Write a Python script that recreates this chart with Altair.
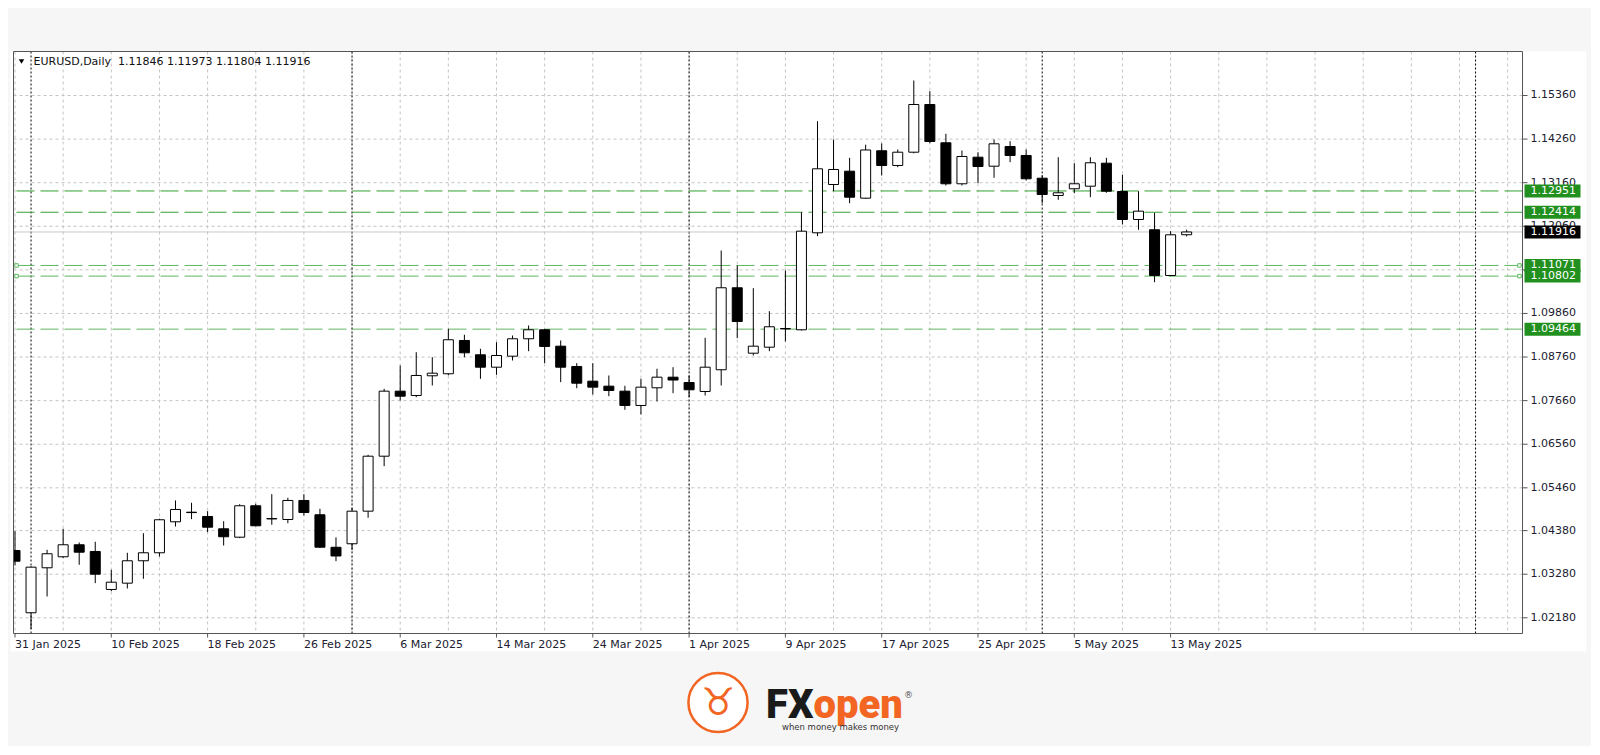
import altair as alt
import pandas as pd

symbol = "EURUSD,Daily"
dates = pd.bdate_range("2025-01-31", "2025-05-14")

opens = [1.03879, 1.02307, 1.03442, 1.03720, 1.04023, 1.03854, 1.02895, 1.03054, 1.03619, 1.03821,
         1.04603, 1.04845, 1.04737, 1.04426, 1.04214, 1.05007, 1.04675, 1.04661, 1.05141, 1.04780,
         1.03960, 1.04048, 1.04871, 1.06258, 1.07899, 1.07790, 1.08287, 1.08338, 1.09178, 1.08817,
         1.08504, 1.08782, 1.09221, 1.09448, 1.09034, 1.08522, 1.08151, 1.08025, 1.07899, 1.07538,
         1.07984, 1.08252, 1.08118, 1.07891, 1.08439, 1.10508, 1.08857, 1.09009, 1.09480, 1.09448,
         1.11895, 1.13114, 1.13450, 1.12769, 1.13965, 1.13594, 1.13929, 1.15133, 1.14166, 1.13132,
         1.13803, 1.13576, 1.14073, 1.13846, 1.13273, 1.12837, 1.13006, 1.13071, 1.13652, 1.12938,
         1.12231, 1.11971, 1.10818, 1.11846]
highs = [1.04366, 1.03480, 1.03896, 1.04426, 1.04081, 1.04099, 1.03392, 1.03821, 1.04315, 1.04680,
         1.05141, 1.05083, 1.04871, 1.04618, 1.05047, 1.05058, 1.05300, 1.05209, 1.05300, 1.04931,
         1.04210, 1.04950, 1.06294, 1.07959, 1.08547, 1.08883, 1.08756, 1.09473, 1.09322, 1.08968,
         1.09135, 1.09304, 1.09556, 1.09470, 1.09178, 1.08605, 1.08605, 1.08295, 1.08035, 1.08211,
         1.08464, 1.08504, 1.08295, 1.09246, 1.11449, 1.11070, 1.10498, 1.09917, 1.10944, 1.12415,
         1.14712, 1.14250, 1.13788, 1.14119, 1.14149, 1.13997, 1.15738, 1.15469, 1.14394, 1.13972,
         1.13929, 1.14250, 1.14207, 1.13997, 1.13350, 1.13803, 1.13652, 1.13803, 1.13788, 1.13359,
         1.12945, 1.12400, 1.11936, 1.11973]
lows = [1.03500, 1.01900, 1.02718, 1.03690, 1.03518, 1.03054, 1.02852, 1.02920, 1.03165, 1.03728,
        1.04485, 1.04669, 1.04341, 1.04005, 1.04190, 1.04493, 1.04527, 1.04568, 1.04762, 1.03940,
        1.03609, 1.03900, 1.04704, 1.06006, 1.07664, 1.07747, 1.08042, 1.08300, 1.08756, 1.08211,
        1.08312, 1.08673, 1.08908, 1.08605, 1.08126, 1.07974, 1.07815, 1.07772, 1.07429, 1.07311,
        1.07639, 1.07848, 1.07747, 1.07790, 1.08042, 1.09236, 1.08799, 1.08908, 1.09153, 1.09430,
        1.11810, 1.12945, 1.12642, 1.12750, 1.13341, 1.13551, 1.13900, 1.14156, 1.13089, 1.13089,
        1.13147, 1.13283, 1.13677, 1.13215, 1.12642, 1.12728, 1.12895, 1.12794, 1.12905, 1.12105,
        1.11971, 1.10649, 1.10800, 1.11804]
closes = [1.03609, 1.03458, 1.03796, 1.04023, 1.03836, 1.03281, 1.03079, 1.03619, 1.03821, 1.04654,
          1.04914, 1.04835, 1.04467, 1.04225, 1.05007, 1.04502, 1.04685, 1.05141, 1.04838, 1.03962,
          1.03740, 1.04871, 1.06258, 1.07899, 1.07772, 1.08295, 1.08353, 1.09196, 1.08867, 1.08504,
          1.08799, 1.09221, 1.09448, 1.09027, 1.08504, 1.08100, 1.08000, 1.07916, 1.07538, 1.08000,
          1.08252, 1.08180, 1.07934, 1.08504, 1.10508, 1.09657, 1.09034, 1.09524, 1.09470, 1.11936,
          1.13510, 1.13493, 1.12794, 1.13985, 1.13594, 1.13929, 1.15133, 1.14199, 1.13132, 1.13821,
          1.13568, 1.14141, 1.13846, 1.13258, 1.12862, 1.12905, 1.13132, 1.13662, 1.12945, 1.12231,
          1.12441, 1.10818, 1.11845, 1.11916]

price_ticks = [1.02180, 1.03280, 1.04380, 1.05460, 1.06560, 1.07660, 1.08760,
               1.09860, 1.10960, 1.12060, 1.13160, 1.14260, 1.15360]
level_prices = [1.12951, 1.12414, 1.11071, 1.10802, 1.09464]
level_colors = ["#2f9e2f", "#3a9e3a", "#5cb85c", "#5cb85c", "#62b462"]
marked_levels = [1.11071, 1.10802]
separator_bars = [1, 21, 42, 64, 91]
label_step = 6
grid_step = 3
future_bars = 94

W, H = 1509, 582
X_DOMAIN = [-0.093, 93.925]
Y_DOMAIN = [1.01784, 1.16470]
FONT = "DejaVu Sans"
TXT = "#202030"
ORANGE = "#f26522"

xs = alt.Scale(domain=X_DOMAIN, nice=False, zero=False, padding=0)
ys = alt.Scale(domain=Y_DOMAIN, nice=False, zero=False, padding=0)


def X(f):
    return alt.X(f"{f}:Q", scale=xs, axis=None)


def Y(f):
    return alt.Y(f"{f}:Q", scale=ys, axis=None)


candles = pd.DataFrame({
    "idx": list(range(len(dates))),
    "date": dates.strftime("%Y-%m-%d"),
    "open": opens, "high": highs, "low": lows, "close": closes,
})
candles["body_lo"] = candles[["open", "close"]].min(axis=1)
candles["body_hi"] = candles[["open", "close"]].max(axis=1)
candles["up"] = candles["close"] >= candles["open"]

label_idx = list(range(0, len(dates), label_step))
xlabels = pd.DataFrame({
    "idx": label_idx,
    "label": [f"{dates[i].day} {dates[i].strftime('%b')} {dates[i].year}" for i in label_idx],
})
vgrid = pd.DataFrame({"idx": list(range(0, future_bars, grid_step))})
seps = pd.DataFrame({"idx": separator_bars})
ticks = pd.DataFrame({"price": price_ticks})
levels = pd.DataFrame({"price": level_prices, "color": level_colors})
last_close = closes[-1]
tags = pd.DataFrame({
    "price": level_prices + [last_close],
    "color": ["#22901e"] * len(level_prices) + ["#000000"],
})
squares = pd.DataFrame({
    "price": marked_levels * 2,
    "px": [3] * len(marked_levels) + [W - 3] * len(marked_levels),
})
one = pd.DataFrame({"a": [0]})

header = (symbol + "\u00a0 " + " ".join(
    f"{v:.5f}" for v in (opens[-1], highs[-1], lows[-1], closes[-1])))

layers = []
# white panel
layers.append(alt.Chart(one).mark_rect(fill="white").encode(
    x=alt.value(-3), x2=alt.value(W + 64), y=alt.value(0), y2=alt.value(H + 18)))
# grid
layers.append(alt.Chart(vgrid).mark_rule(color="#c4c4c4", strokeDash=[3, 3], strokeWidth=1).encode(x=X("idx")))
layers.append(alt.Chart(ticks).mark_rule(color="#c4c4c4", strokeDash=[3, 3], strokeWidth=1).encode(y=Y("price")))
# period separators
layers.append(alt.Chart(seps).mark_rule(color="#000000", strokeDash=[2, 2], strokeWidth=1).encode(x=X("idx")))
# current price line
layers.append(alt.Chart(pd.DataFrame({"price": [last_close]})).mark_rule(
    color="#c8c8c8", strokeWidth=1).encode(y=Y("price")))
# horizontal levels
layers.append(alt.Chart(levels).mark_rule(strokeDash=[18, 6], strokeWidth=1).encode(
    y=Y("price"), color=alt.Color("color:N", scale=None)))
layers.append(alt.Chart(squares).mark_square(size=12, fill="white", stroke="#5cb85c", strokeWidth=1, opacity=1).encode(
    x=alt.X("px:Q", scale=None), y=Y("price")))
# candles
layers.append(alt.Chart(candles).mark_rule(color="black", strokeWidth=1, clip=True).encode(
    x=X("idx"), y=Y("low"), y2=alt.Y2("high:Q")))
layers.append(alt.Chart(candles).mark_bar(size=10, stroke="black", strokeWidth=1, clip=True).encode(
    x=X("idx"), y=Y("body_lo"), y2=alt.Y2("body_hi:Q"),
    fill=alt.condition("datum.up", alt.value("white"), alt.value("black"))))
# frame
layers.append(alt.Chart(one).mark_rect(fillOpacity=0, stroke="#555555", strokeWidth=1).encode(
    x=alt.value(0), x2=alt.value(W), y=alt.value(0), y2=alt.value(H)))
# right axis
layers.append(alt.Chart(ticks).mark_rule(color="#555555").encode(
    y=Y("price"), x=alt.value(W), x2=alt.value(W + 5)))
layers.append(alt.Chart(ticks).mark_text(align="left", baseline="middle", font=FONT, fontSize=11, color=TXT).encode(
    y=Y("price"), x=alt.value(W + 8), text=alt.Text("price:Q", format=".5f")))
# bottom axis
layers.append(alt.Chart(xlabels).mark_rule(color="#555555").encode(
    x=X("idx"), y=alt.value(H), y2=alt.value(H + 4)))
layers.append(alt.Chart(xlabels).mark_text(align="left", baseline="middle", font=FONT, fontSize=11, color=TXT).encode(
    x=X("idx"), y=alt.value(H + 11), text="label:N"))
# price tags
layers.append(alt.Chart(tags).mark_rule(strokeWidth=13).encode(
    y=Y("price"), x=alt.value(W + 2), x2=alt.value(W + 58), color=alt.Color("color:N", scale=None)))
layers.append(alt.Chart(tags).mark_text(align="left", baseline="middle", font=FONT, fontSize=11, color="white").encode(
    y=Y("price"), x=alt.value(W + 8), text=alt.Text("price:Q", format=".5f")))
# header
layers.append(alt.Chart(one).mark_point(shape="triangle-down", size=30, filled=True, color="black", opacity=1).encode(
    x=alt.value(8), y=alt.value(10)))
layers.append(alt.Chart(pd.DataFrame({"t": [header]})).mark_text(
    align="left", baseline="middle", font=FONT, fontSize=11, color="#111111").encode(
    x=alt.value(20), y=alt.value(10), text="t:N"))
# logo
layers.append(alt.Chart(one).mark_point(shape="circle", size=3500, fill="white", stroke=ORANGE, strokeWidth=2.5,
                                        filled=False, opacity=1).encode(x=alt.value(704.5), y=alt.value(651)))
layers.append(alt.Chart(pd.DataFrame({"t": ["\u2649"]})).mark_text(
    align="center", baseline="middle", font=FONT, fontSize=38, color=ORANGE).encode(
    x=alt.value(704.5), y=alt.value(652), text="t:N"))
layers.append(alt.Chart(pd.DataFrame({"t": ["FX"]})).mark_text(
    align="right", baseline="alphabetic", font="Roboto", fontWeight=900, fontSize=40, color="#1a1a1a").encode(
    x=alt.value(800), y=alt.value(666), text="t:N"))
layers.append(alt.Chart(pd.DataFrame({"t": ["open"]})).mark_text(
    align="left", baseline="alphabetic", font="Roboto", fontWeight=900, fontSize=40, color=ORANGE).encode(
    x=alt.value(800), y=alt.value(666), text="t:N"))
layers.append(alt.Chart(pd.DataFrame({"t": ["\u00ae"]})).mark_text(
    align="center", baseline="middle", font=FONT, fontSize=9, color="#555555").encode(
    x=alt.value(895), y=alt.value(643), text="t:N"))
layers.append(alt.Chart(pd.DataFrame({"t": ["when money makes money"]})).mark_text(
    align="center", baseline="middle", font=FONT, fontSize=8.5, color="#333333").encode(
    x=alt.value(827), y=alt.value(675), text="t:N"))

chart = alt.layer(*layers).properties(
    width=W, height=H,
    autosize=alt.AutoSizeParams(type="none"),
    padding={"left": 5.5, "top": 43.5, "right": 68, "bottom": 112},
    background="#f6f6f6",
).configure_view(stroke="transparent", fill="transparent")

chart.save("out.html", embed_options={"renderer": "svg", "actions": False})
